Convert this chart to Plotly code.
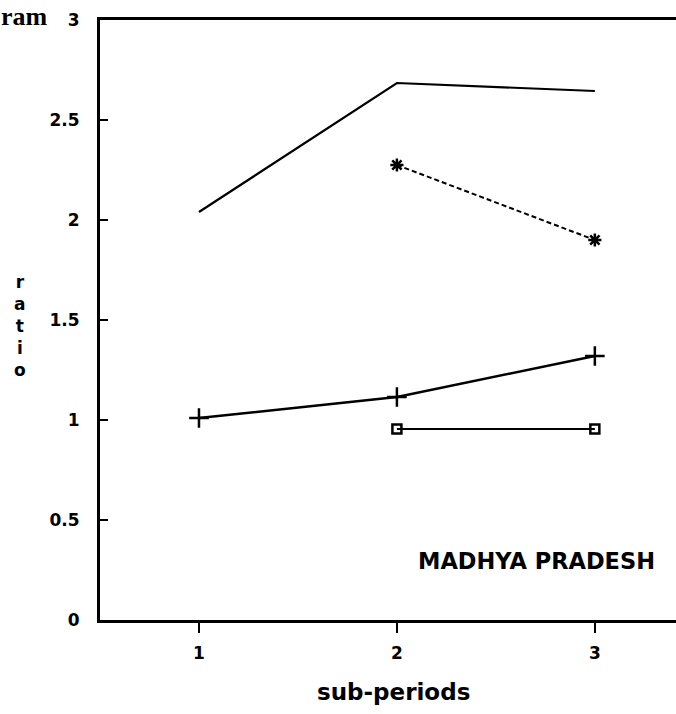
import plotly.graph_objects as go

# ---- data ----
sub_periods = [1, 2, 3]
series_a = [2.04, 2.685, 2.645]          # solid line, no markers
series_b_x = [2, 3]
series_b = [2.275, 1.90]                 # dashed, asterisk markers
series_c = [1.01, 1.115, 1.32]           # solid, plus markers
series_d_x = [2, 3]
series_d = [0.955, 0.955]                # solid, square markers

y_ticks = [0, 0.5, 1, 1.5, 2, 2.5, 3]
y_tick_text = ["0", "0.5", "1", "1.5", "2", "2.5", "3"]
x_ticks = [1, 2, 3]
x_tick_text = ["1", "2", "3"]

FONT = "DejaVu Sans"
BLACK = "#000000"

fig = go.Figure()

fig.add_trace(go.Scatter(x=sub_periods, y=series_a, mode="lines",
                         line=dict(color=BLACK, width=2.2), showlegend=False))
fig.add_trace(go.Scatter(x=series_b_x, y=series_b, mode="lines+markers",
                         line=dict(color=BLACK, width=2, dash="5px,3px"),
                         marker=dict(symbol="asterisk-open", size=11,
                                     line=dict(color=BLACK, width=2.5)),
                         showlegend=False))
fig.add_trace(go.Scatter(x=sub_periods, y=series_c, mode="lines+markers",
                         line=dict(color=BLACK, width=2.5),
                         marker=dict(symbol="cross-thin-open", size=14,
                                     line=dict(color=BLACK, width=2.5)),
                         showlegend=False))
fig.add_trace(go.Scatter(x=series_d_x, y=series_d, mode="lines+markers",
                         line=dict(color=BLACK, width=2),
                         marker=dict(symbol="square-open", size=9,
                                     line=dict(color=BLACK, width=2.5)),
                         showlegend=False))

fig.update_layout(
    width=676, height=714,
    margin=dict(l=100, r=0, t=20, b=94),
    paper_bgcolor="white", plot_bgcolor="white",
    font=dict(family=FONT, color=BLACK),
    xaxis=dict(range=[0.5, 3.41], showgrid=False, zeroline=False,
               showline=True, linecolor=BLACK, linewidth=3, mirror=True,
               ticks="outside", ticklen=10, tickwidth=2, tickcolor=BLACK,
               tickvals=x_ticks, ticktext=x_tick_text,
               ticklabelstandoff=6,
               tickfont=dict(family=FONT, size=17, weight="bold")),
    xaxis2=dict(range=[0.5, 3.41], overlaying="x", anchor="y",
                showgrid=False, zeroline=False, showline=False,
                ticks="inside", ticklen=10, tickwidth=2, tickcolor=BLACK,
                tickvals=x_ticks, showticklabels=False),
    yaxis=dict(range=[0, 3], showgrid=False, zeroline=False,
               showline=True, linecolor=BLACK, linewidth=3,
               ticks="inside", ticklen=8, tickwidth=2, tickcolor=BLACK,
               tickvals=y_ticks, ticktext=y_tick_text,
               ticklabelstandoff=14,
               tickfont=dict(family=FONT, size=17, weight="bold")),
)

fig.add_annotation(text="sub-periods", xref="paper", yref="paper",
                   x=0.51, y=-0.12, xanchor="center", yanchor="middle",
                   showarrow=False,
                   font=dict(family=FONT, size=23, weight="bold"))
fig.add_annotation(text="r<br>a<br>t<br>i<br>o", xref="paper", yref="paper",
                   x=-0.139, y=0.49, xanchor="center", yanchor="middle",
                   showarrow=False,
                   font=dict(family=FONT, size=17, weight="bold"))
fig.add_annotation(text="MADHYA PRADESH", xref="paper", yref="paper",
                   x=0.549, y=0.098, xanchor="left", yanchor="middle",
                   showarrow=False,
                   font=dict(family=FONT, size=22.5, weight="bold"))
fig.add_annotation(text="ram", xref="paper", yref="paper",
                   x=-0.176, y=1.0333, xanchor="left", yanchor="top",
                   showarrow=False,
                   font=dict(family="Liberation Serif", size=26, weight="bold"))

fig.write_html("out.html", config={"displayModeBar": False},
               post_script="document.body.style.margin='0';")
